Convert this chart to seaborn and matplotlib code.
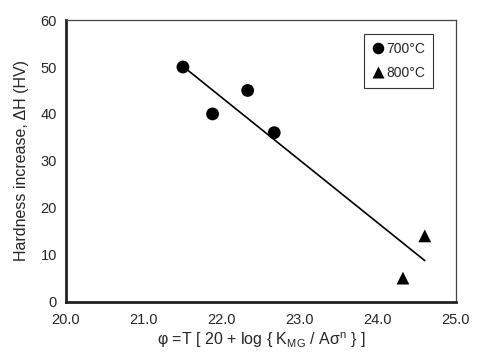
import numpy as np
import pandas as pd
import seaborn as sns
from matplotlib import pyplot as plt

sns.set_style('white')
plt.rcParams['font.family'] = ['Liberation Sans', 'DejaVu Sans']
plt.rcParams['mathtext.fontset'] = 'custom'
plt.rcParams['mathtext.rm'] = 'Liberation Sans'
plt.rcParams['mathtext.it'] = 'Liberation Sans'

# Data
phi_700 = [21.50, 21.88, 22.33, 22.67]
dh_700 = [50, 40, 45, 36]
phi_800 = [24.32, 24.60]
dh_800 = [5, 14]

df = pd.DataFrame({
    'phi': phi_700 + phi_800,
    'dH': dh_700 + dh_800,
    'temp': ['700°C'] * len(phi_700) + ['800°C'] * len(phi_800),
})

fig, ax = plt.subplots(figsize=(4.81, 3.59), dpi=100)

# regression line over all points
sns.regplot(data=df, x='phi', y='dH', scatter=False, ci=None, truncate=True,
            color='black', line_kws={'lw': 1.2}, ax=ax)

sns.scatterplot(data=df, x='phi', y='dH', hue='temp', style='temp',
                markers={'700°C': 'o', '800°C': '^'},
                palette={'700°C': 'black', '800°C': 'black'},
                s=85, edgecolor='none', ax=ax, zorder=3)

ax.set_xlim(20, 25)
ax.set_ylim(0, 60)
ax.set_xticks(np.arange(20, 25.1, 1.0))
ax.set_xticklabels([f'{v:.1f}' for v in np.arange(20, 25.1, 1.0)])
ax.set_yticks(range(0, 61, 10))
ax.tick_params(axis='x', direction='in', length=4, width=0.8, labelsize=10.5,
               pad=8, color='#333333')
ax.tick_params(axis='y', direction='out', length=3, width=0.8, labelsize=10.5,
               color='#333333')

for side in ['left', 'bottom']:
    ax.spines[side].set_linewidth(2)
    ax.spines[side].set_color('#222222')
for side in ['top', 'right']:
    ax.spines[side].set_linewidth(0.9)
    ax.spines[side].set_color('#444444')

ax.set_xlabel(r'φ =T [ 20 + log { K$_{\mathrm{MG}}$ / Aσ$^{\mathrm{n}}$ } ]',
              fontsize=11.5, labelpad=3)
ax.set_ylabel('Hardness increase, ΔH (HV)', fontsize=11.5, labelpad=8)

leg = ax.legend(loc='upper right', bbox_to_anchor=(0.941, 0.951), frameon=True,
                fancybox=False, fontsize=10, handletextpad=0.1,
                borderpad=0.55, labelspacing=0.75, handlelength=1.0,
                borderaxespad=0, markerscale=0.9)
leg.get_frame().set_edgecolor('black')
leg.get_frame().set_linewidth(0.8)

plt.subplots_adjust(left=0.137, right=0.948, top=0.944, bottom=0.16)
plt.savefig('out.png', dpi=100)
